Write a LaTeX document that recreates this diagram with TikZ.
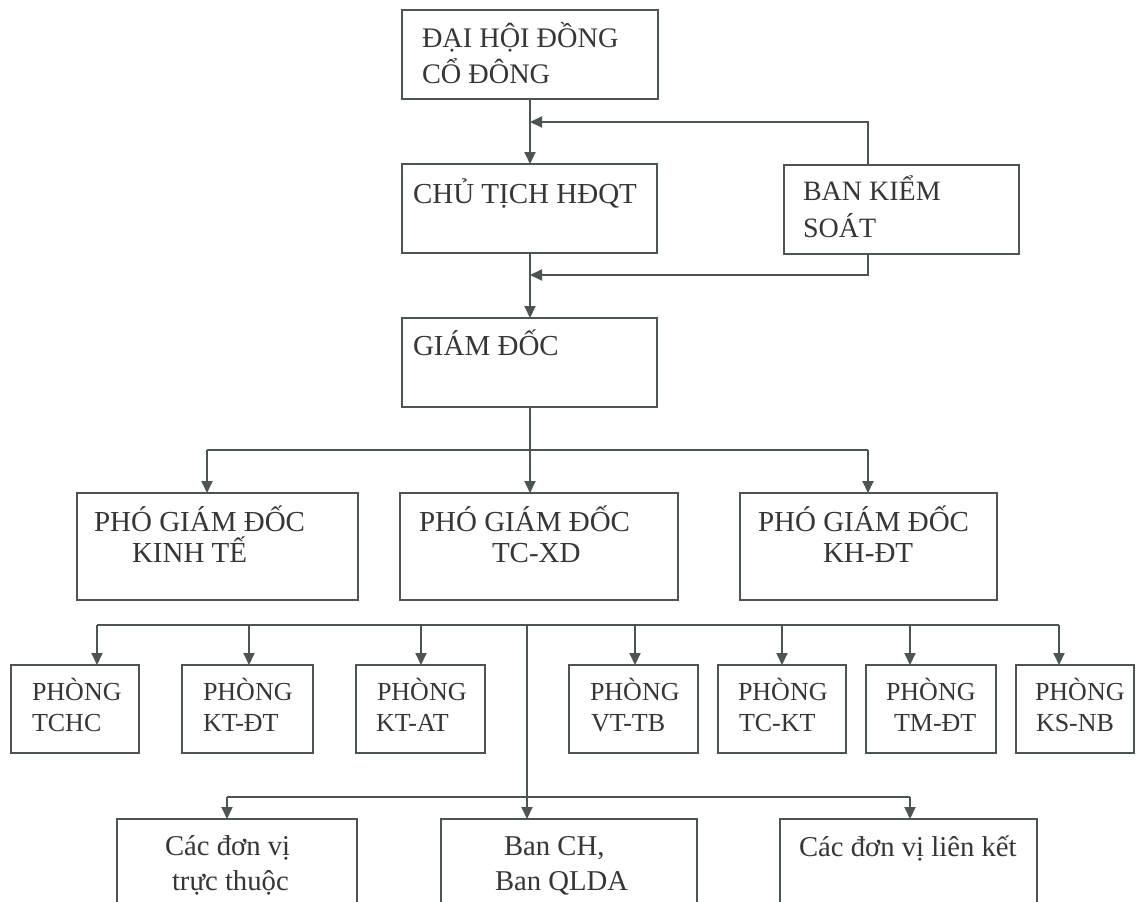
\documentclass[tikz,border=0pt]{standalone}
\usepackage{fontspec}
\setmainfont{Liberation Serif}
\usetikzlibrary{arrows.meta}
\definecolor{lncol}{HTML}{4D5553}
\definecolor{txcol}{HTML}{363636}
\begin{document}
\begin{tikzpicture}[x=1pt,y=-1pt,
  box/.style={draw=lncol,line width=1.9pt,anchor=north west,inner sep=0pt,outer sep=0pt},
  t/.style={anchor=base west,inner sep=0pt,outer sep=0pt,text=txcol,font=\fontsize{#1}{34}\selectfont},
  t/.default=28.5,
  arr/.style={draw=lncol,line width=1.9pt,-{Triangle[length=12pt,width=11pt]}},
  conn/.style={draw=lncol,line width=1.9pt}]
\useasboundingbox (0,0) rectangle (1136,902);
\clip (0,0) rectangle (1136,902);
\fill[white] (0,0) rectangle (1136,902);

% boxes
\node[box,minimum width=256pt,minimum height=89pt] (dh) at (402,10) {};
\node[box,minimum width=255pt,minimum height=89pt] (ct) at (402,164) {};
\node[box,minimum width=235pt,minimum height=89pt] (bks) at (784,165) {};
\node[box,minimum width=255pt,minimum height=89pt] (gd) at (402,318) {};
\node[box,minimum width=281pt,minimum height=107pt] (pk) at (77,493) {};
\node[box,minimum width=278pt,minimum height=107pt] (px) at (400,493) {};
\node[box,minimum width=257pt,minimum height=107pt] (ph) at (740,493) {};
\node[box,minimum width=128pt,minimum height=88pt] (p1) at (11,665) {};
\node[box,minimum width=131pt,minimum height=88pt] (p2) at (182,665) {};
\node[box,minimum width=129pt,minimum height=88pt] (p3) at (356,665) {};
\node[box,minimum width=129pt,minimum height=88pt] (p4) at (569,665) {};
\node[box,minimum width=128pt,minimum height=88pt] (p5) at (718,665) {};
\node[box,minimum width=130pt,minimum height=88pt] (p6) at (866,665) {};
\node[box,minimum width=118pt,minimum height=88pt] (p7) at (1016,665) {};
\node[box,minimum width=240pt,minimum height=110pt] (b1) at (117,819) {};
\node[box,minimum width=256pt,minimum height=110pt] (b2) at (441,819) {};
\node[box,minimum width=257pt,minimum height=110pt] (b3) at (780,819) {};

% texts
\node[t=28.3] (dh1) at (422,47) {ĐẠI HỘI ĐỒNG};
\node[t=28.3] (dh2) at (422,83) {CỔ ĐÔNG};
\node[t=29] (ct1) at (413,203) {CHỦ TỊCH HĐQT};
\node[t=28] (bk1) at (803,200) {BAN KIỂM};
\node[t=28] (bk2) at (803,237) {SOÁT};
\node[t=29] (gd1) at (413,355) {GIÁM ĐỐC};
\node[t=29] (pk1) at (94,531) {PHÓ GIÁM ĐỐC};
\node[t=29] (pk2) at (132,562) {KINH TẾ};
\node[t=29] (px1) at (419,531) {PHÓ GIÁM ĐỐC};
\node[t=29] (px2) at (492,562) {TC-XD};
\node[t=29] (ph1) at (758,531) {PHÓ GIÁM ĐỐC};
\node[t=29] (ph2) at (823,562) {KH-ĐT};
\node[t=26] (p1a) at (32,700) {PHÒNG};
\node[t=26] (p1b) at (32,731) {TCHC};
\node[t=26] (p2a) at (203,700) {PHÒNG};
\node[t=26] (p2b) at (203,731) {KT-ĐT};
\node[t=26] (p3a) at (377,700) {PHÒNG};
\node[t=26] (p3b) at (376,731) {KT-AT};
\node[t=26] (p4a) at (590,700) {PHÒNG};
\node[t=26] (p4b) at (591,731) {VT-TB};
\node[t=26] (p5a) at (738,700) {PHÒNG};
\node[t=26] (p5b) at (739,731) {TC-KT};
\node[t=26] (p6a) at (886,700) {PHÒNG};
\node[t=26] (p6b) at (894,731) {TM-ĐT};
\node[t=26] (p7a) at (1035,700) {PHÒNG};
\node[t=26] (p7b) at (1036,731) {KS-NB};
\node[t=28.7] (b1a) at (165,855) {Các đơn vị};
\node[t=28.7] (b1b) at (172,890) {trực thuộc};
\node[t=28.7] (b2a) at (504,855) {Ban CH,};
\node[t=28.7] (b2b) at (495,890) {Ban QLDA};
\node[t=28.7] (b3a) at (799,856) {Các đơn vị liên kết};

% helper coordinates
\coordinate (fbx) at (868,0);
\coordinate (fb1) at (0,122);
\coordinate (fb2) at (0,275);
\coordinate (bus1) at (0,450);
\coordinate (bus2) at (0,625);
\coordinate (bus3) at (0,797);
\coordinate (a1) at (207,0);
\coordinate (a2) at (530,0);
\coordinate (r1) at (97,0);
\coordinate (r2) at (249,0);
\coordinate (r3) at (421,0);
\coordinate (r4) at (635,0);
\coordinate (r5) at (782,0);
\coordinate (r6) at (910,0);
\coordinate (r7) at (1059,0);
\coordinate (stem) at (527,0);
\coordinate (c1) at (227,0);

% connectors
\draw[arr] (a2 |- dh.south) -- (a2 |- ct.north);
\draw[arr] (bks.north -| fbx) -- (fbx |- fb1) -- (a2 |- fb1);
\draw[arr] (a2 |- ct.south) -- (a2 |- gd.north);
\draw[arr] (bks.south -| fbx) -- (fbx |- fb2) -- (a2 |- fb2);
\draw[conn] (a2 |- gd.south) -- (a2 |- bus1);
\draw[conn] (a1 |- bus1) -- (fbx |- bus1);
\draw[arr] (a1 |- bus1) -- (a1 |- pk.north);
\draw[arr] (a2 |- bus1) -- (a2 |- px.north);
\draw[arr] (fbx |- bus1) -- (fbx |- ph.north);
\draw[conn] (r1 |- bus2) -- (r7 |- bus2);
\draw[arr] (r1 |- bus2) -- (r1 |- p1.north);
\draw[arr] (r2 |- bus2) -- (r2 |- p2.north);
\draw[arr] (r3 |- bus2) -- (r3 |- p3.north);
\draw[arr] (r4 |- bus2) -- (r4 |- p4.north);
\draw[arr] (r5 |- bus2) -- (r5 |- p5.north);
\draw[arr] (r6 |- bus2) -- (r6 |- p6.north);
\draw[arr] (r7 |- bus2) -- (r7 |- p7.north);
\draw[arr] (stem |- bus2) -- (stem |- b2.north);
\draw[conn] (c1 |- bus3) -- (r6 |- bus3);
\draw[arr] (c1 |- bus3) -- (c1 |- b1.north);
\draw[arr] (r6 |- bus3) -- (r6 |- b3.north);
\end{tikzpicture}
\end{document}
